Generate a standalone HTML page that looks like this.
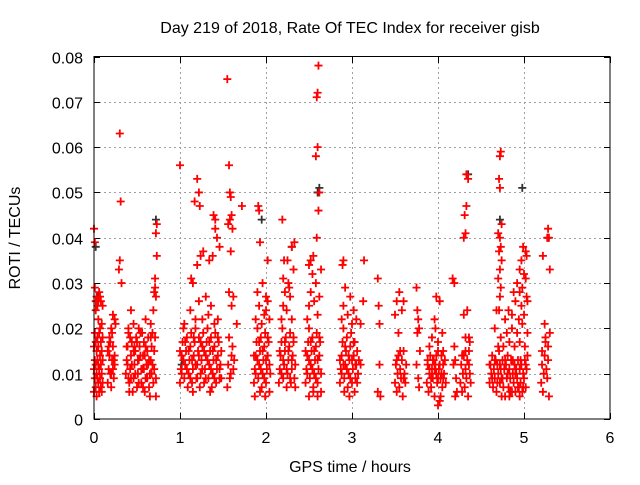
<!DOCTYPE html>
<html><head><meta charset="utf-8"><style>
body{margin:0;background:#fff}
svg text{font-family:"Liberation Sans",sans-serif;font-size:16px;fill:#000}
</style></head><body>
<svg id="chart" width="640" height="480" xmlns="http://www.w3.org/2000/svg">
<text x="350" y="33" text-anchor="middle">Day 219 of 2018, Rate Of TEC Index for receiver gisb</text>
<text x="350" y="472" text-anchor="middle">GPS time / hours</text>
<text transform="translate(20,238) rotate(-90)" text-anchor="middle">ROTI / TECUs</text>
<g id="grid"></g>
<g id="ticks"></g>
<g id="blackpts"></g>
<g id="redpts"></g>
<rect x="94" y="56.5" width="516" height="362.5" fill="none" stroke="#000" stroke-width="1"/>
</svg>
<script>
const xTicks=[0,1,2,3,4,5,6];
const yTicks=[0,0.01,0.02,0.03,0.04,0.05,0.06,0.07,0.08];
const yTickLabels=["0","0.01","0.02","0.03","0.04","0.05","0.06","0.07","0.08"];
// [hour, roti] pairs, red series
const redPoints=[
[0.0,0.006],[0.01,0.009],[0.02,0.012],[0.03,0.015],[0.04,0.018],[0.05,0.008],[0.06,0.011],[0.07,0.014],[0.08,0.017],[0.09,0.01],[0.1,0.013],
[0.0,0.016],[0.01,0.019],[0.02,0.007],[0.03,0.01],[0.04,0.013],[0.05,0.016],[0.06,0.019],[0.07,0.009],[0.08,0.012],[0.09,0.015],[0.1,0.008],
[0.0,0.011],[0.02,0.017],[0.04,0.009],[0.06,0.006],[0.08,0.007],[0.1,0.018],[0.01,0.013],[0.03,0.005],[0.05,0.012],[0.07,0.02],[0.09,0.006],
[0.02,0.026],[0.03,0.027],[0.04,0.025],[0.05,0.026],[0.06,0.028],[0.07,0.027],[0.08,0.026],[0.1,0.025],[0.05,0.022],[0.01,0.029],[0.0,0.042],[0.01,0.039],[0.02,0.024],[0.09,0.021],
[0.16,0.008],[0.17,0.011],[0.18,0.014],[0.19,0.017],[0.2,0.01],[0.21,0.013],[0.22,0.016],[0.23,0.009],[0.24,0.012],[0.16,0.015],[0.18,0.018],[0.2,0.007],[0.22,0.011],[0.24,0.014],[0.17,0.016],[0.19,0.01],[0.21,0.019],[0.23,0.013],[0.25,0.021],[0.22,0.023],[0.2,0.02],[0.24,0.022],
[0.3,0.063],[0.31,0.048],[0.3,0.035],[0.29,0.033],[0.32,0.03],
[0.37,0.01],[0.38,0.013],[0.39,0.016],[0.4,0.019],[0.41,0.008],[0.42,0.011],[0.43,0.014],[0.44,0.017],[0.45,0.006],[0.46,0.009],[0.47,0.012],[0.48,0.015],[0.49,0.018],[0.5,0.007],[0.51,0.01],[0.52,0.013],[0.53,0.016],[0.54,0.019],[0.55,0.008],[0.56,0.011],[0.57,0.014],[0.58,0.017],[0.59,0.006],[0.6,0.009],[0.61,0.012],[0.62,0.015],[0.63,0.018],[0.64,0.007],[0.65,0.01],[0.66,0.013],[0.67,0.016],[0.68,0.019],[0.69,0.008],[0.7,0.011],
[0.38,0.016],[0.4,0.009],[0.42,0.018],[0.44,0.012],[0.46,0.015],[0.48,0.01],[0.5,0.017],[0.52,0.008],[0.54,0.014],[0.56,0.019],[0.58,0.011],[0.6,0.016],[0.62,0.009],[0.64,0.013],[0.66,0.018],[0.68,0.012],[0.7,0.015],[0.72,0.009],
[0.39,0.012],[0.43,0.009],[0.47,0.016],[0.51,0.013],[0.55,0.011],[0.59,0.014],[0.63,0.012],[0.67,0.01],[0.71,0.018],[0.72,0.005],[0.41,0.006],[0.57,0.007],[0.65,0.005],
[0.4,0.02],[0.46,0.021],[0.52,0.02],[0.6,0.022],[0.66,0.021],[0.7,0.028],[0.71,0.029],[0.72,0.027],[0.73,0.036],[0.72,0.041],[0.73,0.043],[0.69,0.024],[0.71,0.031],[0.43,0.024],
[1.0,0.008],[1.01,0.011],[1.02,0.014],[1.03,0.017],[1.04,0.02],[1.05,0.009],[1.06,0.012],[1.07,0.015],[1.08,0.018],[1.09,0.007],[1.1,0.01],[1.11,0.013],[1.12,0.016],[1.13,0.019],[1.14,0.008],[1.15,0.011],[1.16,0.014],[1.17,0.017],[1.18,0.02],[1.19,0.009],[1.2,0.012],[1.21,0.015],[1.22,0.018],[1.23,0.007],[1.24,0.01],[1.25,0.013],[1.26,0.016],[1.27,0.019],[1.28,0.008],[1.29,0.011],[1.3,0.014],[1.31,0.017],[1.32,0.02],[1.33,0.009],[1.34,0.012],[1.35,0.015],[1.36,0.018],[1.37,0.007],[1.38,0.01],[1.39,0.013],[1.4,0.016],[1.41,0.019],[1.42,0.008],[1.43,0.011],[1.44,0.014],[1.45,0.017],[1.46,0.009],[1.47,0.012],[1.48,0.015],
[1.0,0.015],[1.02,0.01],[1.04,0.013],[1.06,0.017],[1.08,0.011],[1.1,0.015],[1.12,0.009],[1.14,0.013],[1.16,0.018],[1.18,0.012],[1.2,0.009],[1.22,0.014],[1.24,0.017],[1.26,0.011],[1.28,0.015],[1.3,0.009],[1.32,0.013],[1.34,0.017],[1.36,0.011],[1.38,0.015],[1.4,0.009],[1.42,0.013],[1.44,0.018],[1.46,0.011],[1.48,0.009],
[1.05,0.021],[1.12,0.024],[1.15,0.03],[1.18,0.022],[1.22,0.026],[1.26,0.022],[1.3,0.027],[1.33,0.023],[1.36,0.025],[1.4,0.021],[1.44,0.022],[1.13,0.031],[1.2,0.034],[1.24,0.036],[1.27,0.037],[1.34,0.035],[1.38,0.036],[1.41,0.044],[1.43,0.04],[1.46,0.038],
[1.0,0.056],[1.2,0.053],[1.22,0.05],[1.17,0.048],[1.23,0.047],[1.39,0.045],[1.41,0.042],[1.15,0.006],[1.35,0.006],
[1.55,0.075],[1.57,0.056],[1.58,0.05],[1.59,0.049],[1.6,0.045],[1.56,0.043],[1.58,0.044],[1.61,0.042],[1.59,0.037],[1.57,0.028],[1.6,0.025],[1.56,0.012],[1.58,0.009],[1.6,0.014],[1.62,0.011],[1.55,0.007],[1.59,0.01],[1.61,0.016],[1.57,0.018],[1.63,0.013],[1.66,0.021],[1.72,0.047],[1.62,0.027],
[1.86,0.008],[1.87,0.011],[1.88,0.014],[1.89,0.017],[1.9,0.02],[1.91,0.009],[1.92,0.012],[1.93,0.015],[1.94,0.018],[1.95,0.007],[1.96,0.01],[1.97,0.013],[1.98,0.016],[1.99,0.019],[2.0,0.008],[2.01,0.011],[2.02,0.014],[2.03,0.017],[2.04,0.006],[2.05,0.01],
[1.86,0.014],[1.88,0.01],[1.9,0.013],[1.92,0.017],[1.94,0.011],[1.96,0.015],[1.98,0.009],[2.0,0.013],[2.02,0.018],[2.04,0.012],[1.87,0.005],[1.93,0.006],[1.99,0.005],
[1.88,0.022],[1.92,0.025],[1.95,0.021],[1.98,0.023],[2.02,0.026],[2.04,0.022],[1.9,0.028],[1.96,0.03],[2.0,0.027],[1.93,0.039],[1.91,0.047],[1.92,0.046],[2.02,0.035],[2.0,0.024],
[2.15,0.008],[2.16,0.011],[2.17,0.014],[2.18,0.017],[2.19,0.02],[2.2,0.009],[2.21,0.012],[2.22,0.015],[2.23,0.018],[2.24,0.007],[2.25,0.01],[2.26,0.013],[2.27,0.016],[2.28,0.019],[2.29,0.008],[2.3,0.011],[2.31,0.014],[2.32,0.017],[2.33,0.009],[2.34,0.012],
[2.16,0.015],[2.18,0.01],[2.2,0.013],[2.22,0.017],[2.24,0.011],[2.26,0.015],[2.28,0.009],[2.3,0.013],[2.32,0.018],[2.34,0.007],
[2.18,0.022],[2.2,0.025],[2.22,0.028],[2.24,0.024],[2.26,0.03],[2.28,0.027],[2.3,0.022],[2.32,0.033],[2.2,0.031],[2.25,0.035],[2.3,0.038],[2.33,0.039],[2.19,0.044],[2.21,0.035],[2.27,0.029],
[2.46,0.008],[2.47,0.011],[2.48,0.014],[2.49,0.017],[2.5,0.02],[2.51,0.009],[2.52,0.012],[2.53,0.015],[2.54,0.018],[2.55,0.007],[2.56,0.01],[2.57,0.013],[2.58,0.016],[2.59,0.019],[2.6,0.008],[2.61,0.011],[2.62,0.014],[2.63,0.017],[2.64,0.01],
[2.46,0.015],[2.48,0.01],[2.5,0.013],[2.52,0.017],[2.54,0.011],[2.56,0.015],[2.58,0.009],[2.6,0.013],[2.62,0.018],[2.64,0.006],[2.5,0.005],[2.6,0.005],[2.55,0.006],
[2.48,0.022],[2.5,0.025],[2.52,0.028],[2.54,0.032],[2.56,0.026],[2.58,0.03],[2.6,0.023],[2.62,0.027],[2.64,0.033],[2.5,0.034],[2.55,0.036],[2.59,0.04],[2.61,0.046],[2.62,0.05],[2.58,0.058],[2.6,0.06],[2.59,0.071],[2.6,0.072],[2.61,0.078],[2.52,0.035],
[2.86,0.008],[2.87,0.011],[2.88,0.014],[2.89,0.017],[2.9,0.02],[2.91,0.009],[2.92,0.012],[2.93,0.015],[2.94,0.018],[2.95,0.007],[2.96,0.01],[2.97,0.013],[2.98,0.016],[2.99,0.019],[3.0,0.008],[3.01,0.011],[3.02,0.014],[3.03,0.017],[3.04,0.009],[3.05,0.012],[3.06,0.015],[3.07,0.01],[3.08,0.013],
[2.86,0.013],[2.88,0.01],[2.9,0.012],[2.92,0.016],[2.94,0.011],[2.96,0.014],[2.98,0.009],[3.0,0.013],[3.02,0.017],[3.04,0.012],[3.06,0.008],[2.91,0.006],[2.97,0.005],[3.03,0.006],
[2.88,0.022],[2.9,0.025],[2.92,0.029],[2.95,0.023],[2.98,0.027],[3.0,0.021],[3.02,0.024],[3.05,0.022],[2.89,0.034],[2.9,0.035],[3.1,0.021],[3.14,0.035],[3.13,0.026],[3.1,0.012],
[3.3,0.031],[3.31,0.025],[3.32,0.021],[3.3,0.006],[3.32,0.012],[3.33,0.005],
[3.5,0.008],[3.51,0.012],[3.52,0.006],[3.53,0.01],[3.54,0.014],[3.55,0.007],[3.56,0.011],[3.57,0.009],[3.58,0.013],[3.59,0.005],[3.6,0.015],[3.61,0.01],[3.62,0.008],[3.63,0.012],[3.52,0.013],[3.56,0.015],[3.6,0.009],[3.5,0.023],[3.52,0.026],[3.55,0.028],[3.58,0.024],[3.6,0.026],[3.54,0.019],
[3.75,0.029],[3.76,0.024],[3.77,0.022],[3.78,0.02],[3.75,0.012],[3.77,0.009],[3.79,0.015],[3.76,0.019],[3.78,0.007],
[3.87,0.008],[3.88,0.012],[3.89,0.006],[3.9,0.01],[3.91,0.014],[3.92,0.007],[3.93,0.011],[3.94,0.009],[3.95,0.013],[3.96,0.005],[3.97,0.012],[3.98,0.01],[3.99,0.008],[4.0,0.015],[4.01,0.011],[4.02,0.004],[4.03,0.009],[4.04,0.014],[4.05,0.007],[4.06,0.012],[4.07,0.01],[4.08,0.013],[4.09,0.008],
[3.88,0.013],[3.9,0.011],[3.92,0.009],[3.94,0.013],[3.96,0.011],[3.98,0.014],[4.0,0.009],[4.02,0.012],[4.04,0.01],[4.06,0.009],[4.0,0.003],[4.03,0.005],
[3.9,0.016],[3.93,0.018],[3.96,0.022],[3.98,0.027],[4.0,0.017],[4.02,0.026],[4.05,0.019],[3.97,0.02],[4.06,0.015],
[4.17,0.031],[4.19,0.03],[4.2,0.013],[4.21,0.009],[4.18,0.012],[4.22,0.006],[4.2,0.005],[4.19,0.016],
[4.26,0.008],[4.27,0.012],[4.28,0.006],[4.29,0.01],[4.3,0.014],[4.31,0.007],[4.32,0.011],[4.33,0.009],[4.34,0.013],[4.35,0.005],[4.36,0.015],[4.37,0.01],[4.38,0.008],[4.28,0.014],[4.32,0.015],[4.36,0.012],
[4.3,0.023],[4.32,0.018],[4.34,0.024],[4.3,0.04],[4.32,0.041],[4.31,0.045],[4.33,0.047],[4.33,0.054],[4.35,0.053],[4.36,0.018],[4.37,0.017],
[4.6,0.008],[4.61,0.012],[4.62,0.01],[4.63,0.014],[4.64,0.007],[4.65,0.011],[4.66,0.009],[4.67,0.013],[4.68,0.006],[4.69,0.012],[4.7,0.01],[4.71,0.015],[4.72,0.008],[4.73,0.011],[4.74,0.009],[4.75,0.013],[4.76,0.007],[4.77,0.011],[4.78,0.005],[4.79,0.012],[4.8,0.009],[4.81,0.014],[4.82,0.007],[4.83,0.011],[4.84,0.009],[4.85,0.013],[4.86,0.006],[4.87,0.01],[4.88,0.008],[4.89,0.012],[4.9,0.006],[4.91,0.011],[4.92,0.009],[4.93,0.013],[4.94,0.007],[4.95,0.011],[4.96,0.008],[4.97,0.012],[4.98,0.006],[4.99,0.01],[5.0,0.009],[5.01,0.013],[5.02,0.007],[5.03,0.011],[5.04,0.014],
[4.6,0.012],[4.63,0.009],[4.66,0.013],[4.69,0.008],[4.72,0.012],[4.75,0.009],[4.78,0.013],[4.81,0.01],[4.84,0.006],[4.87,0.013],[4.9,0.01],[4.93,0.007],[4.96,0.013],[4.99,0.007],[5.02,0.012],[4.74,0.005],[4.83,0.005],[4.95,0.005],
[4.7,0.016],[4.73,0.018],[4.76,0.016],[4.8,0.019],[4.83,0.017],[4.86,0.02],[4.89,0.016],[4.92,0.019],[4.95,0.017],[4.98,0.021],[5.01,0.016],[5.04,0.019],[4.78,0.022],[4.82,0.024],[4.86,0.023],[4.9,0.026],[4.94,0.022],[4.97,0.025],[5.0,0.023],[5.03,0.027],[4.95,0.028],[4.98,0.029],[5.02,0.031],[4.92,0.03],[4.88,0.028],[5.04,0.026],
[4.71,0.024],[4.72,0.027],[4.73,0.029],[4.7,0.031],[4.72,0.033],[4.74,0.035],[4.71,0.037],[4.73,0.038],[4.72,0.04],[4.7,0.041],[4.74,0.043],[4.72,0.051],[4.71,0.053],[4.72,0.058],[4.73,0.059],[4.68,0.024],[4.66,0.02],
[4.95,0.033],[4.97,0.035],[5.0,0.032],[5.02,0.037],[5.03,0.036],[4.99,0.038],
[5.2,0.008],[5.21,0.012],[5.22,0.006],[5.23,0.01],[5.24,0.014],[5.25,0.017],[5.26,0.011],[5.27,0.009],[5.28,0.013],[5.29,0.005],[5.3,0.019],[5.21,0.015],[5.25,0.018],[5.28,0.016],[5.22,0.036],[5.27,0.04],[5.28,0.042],[5.29,0.04],[5.3,0.033],[5.24,0.021]];
// black series (mostly hidden under red)
const blackPoints=[[0.02,0.038],[0.05,0.027],[0.72,0.044],[1.02,0.012],[1.95,0.044],[2.3,0.038],[2.6,0.05],[2.62,0.051],[4.35,0.054],[4.72,0.044],[4.98,0.051],[5.28,0.04]];

const X=v=>94+v*86, Y=v=>419-v*4531.25;
const NS="http://www.w3.org/2000/svg";
const grid=document.getElementById('grid'), ticks=document.getElementById('ticks');
function ln(g,x1,y1,x2,y2,st,dash){const l=document.createElementNS(NS,'line');l.setAttribute('x1',x1);l.setAttribute('y1',y1);l.setAttribute('x2',x2);l.setAttribute('y2',y2);l.setAttribute('stroke',st);l.setAttribute('stroke-width',1);if(dash)l.setAttribute('stroke-dasharray',dash);g.appendChild(l);return l;}
function tx(g,x,y,s,anchor){const t=document.createElementNS(NS,'text');t.setAttribute('x',x);t.setAttribute('y',y);t.setAttribute('text-anchor',anchor);t.textContent=s;g.appendChild(t);return t;}
xTicks.forEach(v=>{const x=Math.round(X(v))+0.5;
 if(v>0&&v<6){const g=ln(grid,x,57,x,419,'#a0a0a0','2,3');}
 ln(ticks,x,419,x,413,'#000');ln(ticks,x,57,x,63,'#000');
 const t=tx(ticks,X(v),443,String(v),'middle');});
yTicks.forEach((v,i)=>{const y=Math.round(Y(v))+0.5;
 if(i>0&&i<yTicks.length-1){const g=ln(grid,94,y,610,y,'#a0a0a0','2,3');}
 ln(ticks,94,y,100,y,'#000');ln(ticks,610,y,604,y,'#000');
 const t=tx(ticks,83,y+6,yTickLabels[i],'end');});
function plus(g,h,r,col){const x=X(h),y=Y(r);const p=document.createElementNS(NS,'path');p.setAttribute('d',`M${x-4},${y}H${x+4}M${x},${y-4}V${y+4}`);p.setAttribute('stroke',col);p.setAttribute('stroke-width',1.8);p.setAttribute('fill','none');g.appendChild(p);return p;}
const bg=document.getElementById('blackpts');
blackPoints.forEach(d=>{const p=plus(bg,d[0],d[1],'#333');

});
const rg=document.getElementById('redpts');
redPoints.forEach(d=>{const p=plus(rg,d[0],d[1],'#ff0000');

});
</script>
</body></html>
